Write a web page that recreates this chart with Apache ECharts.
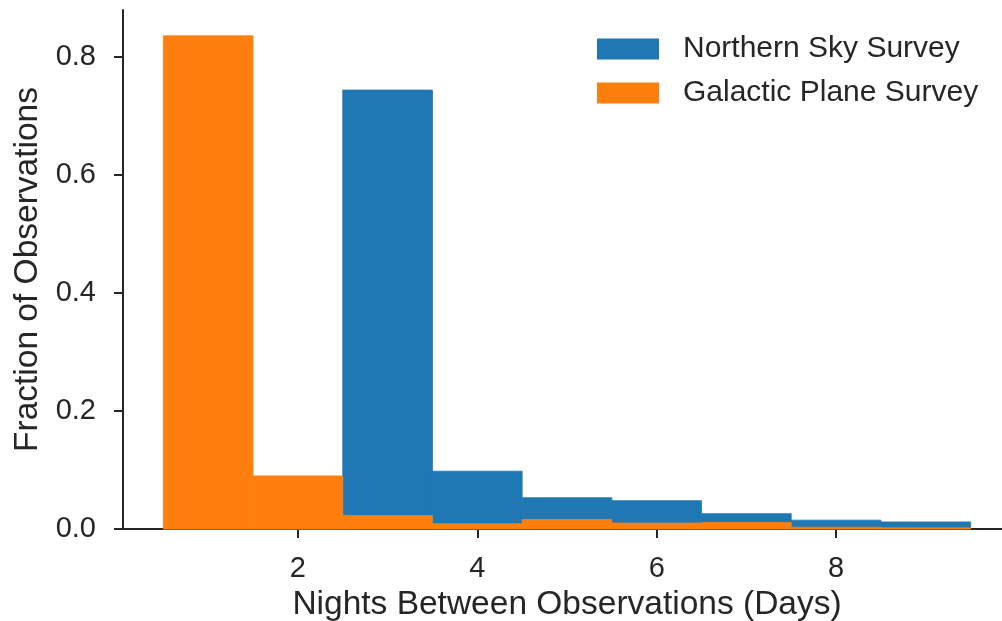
<!DOCTYPE html>
<html>
<head>
<meta charset="utf-8">
<script src="https://cdn.jsdelivr.net/npm/echarts@6/dist/echarts.min.js"></script>
<style>html,body{margin:0;padding:0;background:#fff}#c{width:1002px;height:621px}</style>
</head>
<body>
<div id="c"></div>
<script>
// Histogram bin edges (nights)
var binStarts = [0.5, 1.5, 2.5, 3.5, 4.5, 5.5, 6.5, 7.5, 8.5];
var binEnds   = [1.5, 2.5, 3.5, 4.5, 5.5, 6.5, 7.5, 8.5, 9.5];
// Fraction of observations per bin
var northernSky   = [0, 0, 0.744, 0.098, 0.053, 0.048, 0.026, 0.015, 0.012];
var galacticPlane = [0.836, 0.090, 0.023, 0.009, 0.016, 0.010, 0.011, 0.003, 0.002];
// Tick labels
var xTicks = [2, 4, 6, 8];
var yTicks = [0, 0.2, 0.4, 0.6, 0.8];

var FONT = 'Liberation Sans, Arial, sans-serif';
var TXT = '#262626';

function toData(vals) {
  return vals.map(function (v, i) { return [binStarts[i], binEnds[i], v]; });
}
function renderBar(params, api) {
  var p0 = api.coord([api.value(0), api.value(2)]);
  var p1 = api.coord([api.value(1), 0]);
  var c = api.visual('color');
  return {
    type: 'rect',
    shape: { x: p0[0], y: p0[1], width: p1[0] - p0[0], height: p1[1] - p0[1] },
    style: { fill: c, stroke: c, lineWidth: 0.8 }
  };
}

var chart = echarts.init(document.getElementById('c'), null, { renderer: 'canvas' });
chart.setOption({
  animation: false,
  backgroundColor: '#ffffff',
  textStyle: { fontFamily: FONT, color: TXT },
  grid: { left: 123, right: -9, top: 10, bottom: 92, containLabel: false, outerBoundsMode: 'none' },
  legend: {
    orient: 'vertical',
    left: 592, top: 29,
    icon: 'rect',
    itemWidth: 62, itemHeight: 21, itemGap: 14,
    textStyle: { fontFamily: FONT, fontSize: 30, color: TXT, lineHeight: 21, padding: [0, 0, 0, 19] },
    data: ['Northern Sky Survey', 'Galactic Plane Survey']
  },
  xAxis: {
    type: 'value',
    min: 0.05, max: 9.95,
    name: 'Nights Between Observations (Days)',
    nameLocation: 'middle', nameGap: 58,
    nameTextStyle: { fontFamily: FONT, fontSize: 33.5, color: TXT },
    axisLine: { show: true, lineStyle: { color: TXT, width: 2 } },
    axisTick: { show: true, inside: false, length: 9, customValues: xTicks, lineStyle: { color: TXT, width: 2 } },
    axisLabel: { customValues: xTicks, margin: 25, fontFamily: FONT, fontSize: 29, color: TXT },
    splitLine: { show: false }
  },
  yAxis: {
    type: 'value',
    min: 0, max: 0.8797,
    name: 'Fraction of Observations',
    nameLocation: 'middle', nameGap: 77,
    nameTextStyle: { fontFamily: FONT, fontSize: 33.5, color: TXT },
    axisLine: { show: true, lineStyle: { color: TXT, width: 2 } },
    axisTick: { show: true, inside: false, length: 9, customValues: yTicks, lineStyle: { color: TXT, width: 2 } },
    axisLabel: { customValues: yTicks, margin: 27, fontFamily: FONT, fontSize: 29, color: TXT,
      formatter: function (v) { return v.toFixed(1); } },
    splitLine: { show: false }
  },
  series: [
    {
      name: 'Northern Sky Survey', type: 'custom', renderItem: renderBar,
      itemStyle: { color: '#1f77b4' },
      encode: { x: [0, 1], y: 2 },
      data: toData(northernSky)
    },
    {
      name: 'Galactic Plane Survey', type: 'custom', renderItem: renderBar,
      itemStyle: { color: '#ff7f0e' },
      encode: { x: [0, 1], y: 2 },
      data: toData(galacticPlane)
    }
  ]
});
</script>
</body>
</html>
